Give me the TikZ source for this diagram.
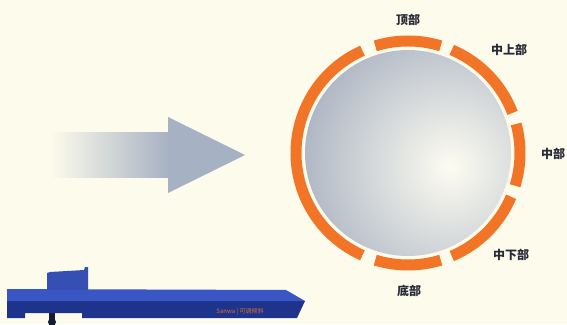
\documentclass[tikz,border=0pt]{standalone}
\usepackage{fontspec}
\newfontfamily\cjk{Noto Sans CJK SC}
\usetikzlibrary{calc,fadings}

\definecolor{paper}{RGB}{252,251,236}
\definecolor{ringorange}{RGB}{242,116,38}
\definecolor{diskgray}{RGB}{164,173,190}
\definecolor{arrowgray}{RGB}{166,177,195}
\definecolor{labelink}{RGB}{38,42,52}
\definecolor{beltblue}{RGB}{58,86,196}
\definecolor{beltdark}{RGB}{30,52,140}
\definecolor{footdark}{RGB}{20,30,50}
\definecolor{brandorange}{RGB}{214,112,52}

\tikzfading[name=tailfade, left color=transparent!100, middle color=transparent!20, right color=transparent!0]

\tikzset{
  ringseg/.style={draw=ringorange, line width=11pt, line cap=butt},
  zonelabel/.style={font=\cjk\bfseries\fontsize{12}{12}\selectfont, text=labelink, inner sep=0pt},
}

\begin{document}
\begin{tikzpicture}[x=1pt, y=1pt]
  % page and background
  \useasboundingbox (0,0) rectangle (567,324);
  \fill[paper] (0,0) rectangle (567,324);

  % ---- feed arrow ----
  \fill[arrowgray, path fading=tailfade] (52,146) rectangle (170,192);
  \fill[arrowgray] (168,146) -- (168,131) -- (245,169) -- (168,207) -- (168,192) -- cycle;

  % ---- cross-section: shaded disk ----
  \coordinate (C) at (408,171);
  \begin{scope}
    \clip (C) circle (103);
    \fill[white] (C) circle (103);
    \shade[inner color=paper!70!white, outer color=diskgray] ($(C)+(42,-14)$) circle (170);
  \end{scope}

  % ---- ring divided into zones ----
  \draw[ringseg] ($(C)+(73:112)$)  arc[start angle=73,  end angle=107, radius=112];
  \draw[ringseg] ($(C)+(114:112)$) arc[start angle=114, end angle=246, radius=112];
  \draw[ringseg] ($(C)+(253:112)$) arc[start angle=253, end angle=287, radius=112];
  \draw[ringseg] ($(C)+(293:112)$) arc[start angle=293, end angle=337, radius=112];
  \draw[ringseg] ($(C)+(343:112)$) arc[start angle=343, end angle=375, radius=112];
  \draw[ringseg] ($(C)+(21:112)$)  arc[start angle=21,  end angle=67,  radius=112];

  % ---- zone labels ----
  \node[zonelabel] (top)    at (408,304) {顶部};
  \node[zonelabel] (upmid)  at (509,274) {中上部};
  \node[zonelabel] (mid)    at (553,170) {中部};
  \node[zonelabel] (lowmid) at (511,69)  {中下部};
  \node[zonelabel] (bottom) at (409,33)  {底部};

  % ---- inclined conveyor table ----
  % leg and foot
  \fill[footdark] (49,0) rectangle (55,12);
  \fill[footdark] (52,2) circle (4);
  % front face with notch
  \fill[beltdark] (7,23) -- (305,23) -- (297,6) -- (82,6) -- (82,11) -- (25,11) -- (25,6) -- (7,6) -- cycle;
  % top face
  \fill[beltblue] (7,35) -- (286,34) -- (305,23) -- (7,23) -- cycle;
  % hopper
  \fill[beltblue!92!black] (47,34) -- (47,51) -- (50,52) -- (84,54) -- (85,57) -- (88,57) -- (88,34) -- cycle;
  % brand plate
  \node[font=\cjk\fontsize{6}{6}\selectfont, text=brandorange, inner sep=0pt] (brand) at (240,12) {Sanwa | 可调倾斜};
\end{tikzpicture}
\end{document}
